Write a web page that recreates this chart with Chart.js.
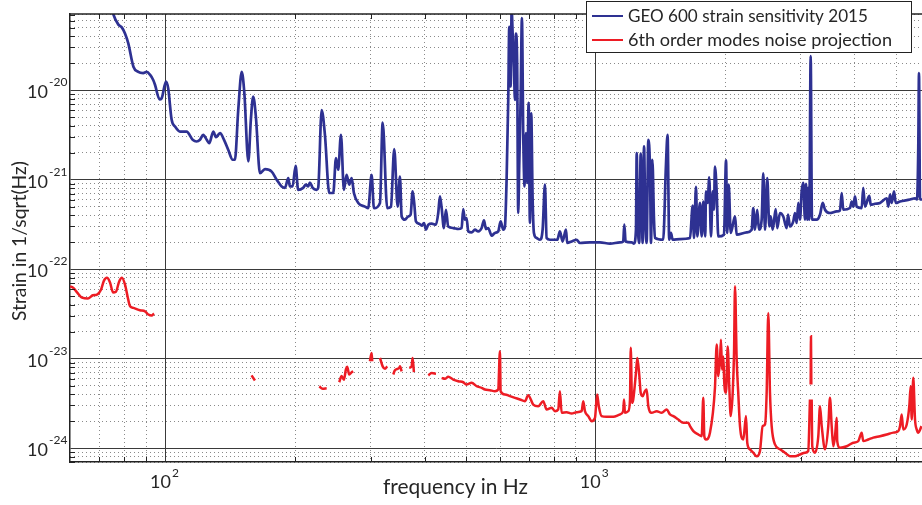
<!DOCTYPE html>
<html><head><meta charset="utf-8">
<script src="https://cdn.jsdelivr.net/npm/chart.js@4.4.0/dist/chart.umd.min.js"></script>
<style>html,body{margin:0;padding:0;background:#fff;overflow:hidden}#wrap{width:922px;height:505px}</style>
</head><body><div id="wrap"><canvas id="c" width="922" height="505"></canvas></div>
<script>
// ---- data (frequency in Hz, strain in 1/sqrt(Hz)) ----
const blueFreq = [
74.6,75.4,77.5,79.0,80.3,81.7,84.0,86.2,88.5,90.2,
91.8,93.4,94.3,96.6,97.7,100,101.2,103.1,105.0,107.8,
111.7,115.4,117.8,120.0,122.1,124.4,126.1,128.9,130.7,133.6,
136.5,139.6,143.0,144.7,147.3,150.1,152.2,155.5,157.6,159.6,
161.9,165.5,170.0,176.2,181.0,185.9,189.2,192.6,194.3,197.1,
200.3,203.1,208.6,211.7,214.3,216.3,219.5,224.2,226.1,230.3,
234.4,239.9,245.1,248.7,251.7,255.4,259.5,263.2,267.0,270.5,
273.8,280.2,290.5,295.6,301.0,304.8,314.8,319.4,327.3,333.9,
339.8,346.1,350.4,353.6,359.9,366.2,371.0,375.0,378.2,381.7,
388.6,393.6,398.5,402.8,407.8,415.3,425.0,430.2,434.1,438.1,
443.5,448.3,453.8,466.2,478.8,487.6,491.8,496.3,500.7,505.2,
514.5,523.7,533.0,542.8,549.6,555.5,562.3,572.7,582.9,593.2,
601.0,609.4,615.0,620.5,626.0,629.4,634.1,637.5,640.9,645.4,
648.9,652.3,656.7,660.3,663.9,668.9,673.6,678.3,683.2,688.2,
692.9,698.2,703.1,708.0,713.4,718.4,728.8,741.8,752.6,762.0,
768.9,782.7,814.2,825.7,837.7,852.7,858.6,879.2,903.1,919.2,
969.9,1023,1080,1139,1159,1166,1174,1213,1228,1241,
1246,1253,1263,1273,1282,1286,1296,1305,1314,1326,
1338,1345,1355,1367,1374,1436,1457,1470,1483,1497,
1511,1571,1658,1682,1694,1712,1724,1749,1765,1780,
1799,1806,1822,1838,1855,1872,1885,1895,1913,1929,
1989,2011,2024,2040,2062,2110,2129,2246,2307,2327,
2348,2377,2399,2434,2455,2478,2508,2536,2555,2582,
2624,2646,2685,2733,2783,2803,2833,2883,2910,2937,
2962,2989,3016,3042,3070,3087,3108,3124,3141,3165,
3187,3268,3327,3376,3418,3510,3639,3703,3737,3769,
3907,3943,3977,4013,4050,4160,4195,4234,4333,4366,
4467,4589,4757,4798,4842,4887,4947,4992,5108,5389,
5536,5595,5634,5655,5686,5747];
const blueStrain = [
8.9e-20,7.1e-20,5.4e-20,5.0e-20,4.3e-20,3.35e-20,1.83e-20,1.6e-20,1.55e-20,1.6e-20,
1.49e-20,1.30e-20,1.15e-20,7.9e-21,8.1e-21,1.25e-20,1.05e-20,4.66e-21,3.92e-21,3.45e-21,
3.45e-21,2.79e-21,2.67e-21,2.79e-21,3.17e-21,2.79e-21,2.56e-21,3.45e-21,2.99e-21,3.31e-21,
2.79e-21,2.16e-21,1.67e-21,1.67e-21,6.0e-21,1.6e-20,9.3e-21,1.60e-21,4.66e-21,8.5e-21,
5.07e-21,1.18e-21,1.31e-21,1.23e-21,1.0e-21,8.4e-22,8.1e-22,1.04e-21,8.4e-22,8.4e-22,
1.43e-21,7.7e-22,8.1e-22,8.8e-22,8.4e-22,9.3e-22,8.1e-22,7.7e-22,8.1e-22,6.0e-21,
3.17e-21,7.1e-22,7.1e-22,1.74e-21,1.29e-21,3.17e-21,7.7e-22,1.13e-21,8.8e-22,1.04e-21,
7.1e-22,5.5e-22,5.0e-22,4.8e-22,1.13e-21,4.8e-22,5.5e-22,4.35e-21,4.8e-22,5.0e-22,
2.19e-21,5.0e-22,1.08e-21,3.88e-22,3.57e-22,3.88e-22,4.06e-22,7.4e-22,5.5e-22,3.42e-22,
3.22e-22,3.06e-22,3.28e-22,2.76e-22,3.14e-22,3.22e-22,3.14e-22,4.24e-22,6.5e-22,4.82e-22,
2.88e-22,4.61e-22,3.0e-22,2.88e-22,2.81e-22,2.88e-22,4.7e-22,3.57e-22,3.73e-22,2.64e-22,
2.58e-22,2.76e-22,2.64e-22,2.88e-22,3.51e-22,2.81e-22,2.88e-22,2.37e-22,2.54e-22,2.64e-22,
3.42e-22,2.76e-22,3.0e-22,1.0e-21,7.8e-21,5.1e-20,1.10e-20,8.0e-20,4.3e-20,1.83e-20,
7.8e-21,4.3e-20,1.83e-20,4.24e-22,1.40e-21,7.8e-21,6.4e-20,3.31e-21,8.4e-22,3.31e-21,
9.2e-22,7.2e-21,3.28e-22,5.5e-21,5.97e-22,2.54e-22,2.23e-22,2.13e-22,2.76e-22,8.8e-22,
2.23e-22,2.13e-22,2.13e-22,2.64e-22,2.04e-22,2.76e-22,1.96e-22,2.04e-22,2.13e-22,1.96e-22,
1.99e-22,1.99e-22,1.93e-22,1.99e-22,2.04e-22,3.14e-22,2.04e-22,1.99e-22,1.93e-22,2.76e-22,
1.98e-21,3.57e-22,1.96e-22,1.95e-21,3.57e-22,1.96e-22,2.35e-21,3.57e-22,1.96e-22,2.79e-21,
1.29e-21,1.96e-22,1.67e-21,3.57e-22,2.23e-22,2.13e-22,1.40e-21,3.17e-21,2.13e-22,2.54e-22,
2.13e-22,2.17e-22,2.23e-22,5.12e-22,2.23e-22,8.3e-22,2.32e-22,5.5e-22,2.32e-22,5.7e-22,
2.32e-22,7.4e-22,5.5e-22,1.06e-21,2.32e-22,7.4e-22,4.61e-22,1.40e-21,7.1e-22,2.32e-22,
2.43e-22,1.64e-21,2.54e-22,8.8e-22,2.54e-22,3.88e-22,2.43e-22,2.58e-22,2.76e-22,4.82e-22,
2.76e-22,4.61e-22,2.76e-22,3.57e-22,1.18e-21,2.76e-22,1.04e-21,3.0e-22,3.88e-22,2.76e-22,
4.7e-22,2.88e-22,4.24e-22,3.88e-22,2.88e-22,4.06e-22,3.0e-22,3.42e-22,4.24e-22,3.28e-22,
5.5e-22,3.57e-22,7.4e-22,9.2e-22,3.57e-22,9.0e-22,3.57e-22,8.1e-22,3.57e-22,2.4e-20,
3.57e-22,3.57e-22,4.06e-22,5.5e-22,4.61e-22,4.24e-22,4.42e-22,4.53e-22,7.1e-22,4.61e-22,
4.82e-22,5.7e-22,5.0e-22,6.5e-22,5.0e-22,4.82e-22,8.1e-22,5.0e-22,6.6e-22,5.25e-22,
5.38e-22,5.5e-22,6.2e-22,5.0e-22,6.8e-22,5.5e-22,7.4e-22,5.5e-22,5.7e-22,6.0e-22,
6.2e-22,6.0e-22,2.35e-21,1.55e-20,6.0e-22,6.0e-22];

const redFreq = [
59.8,60.8,62.1,63.8,65.8,67.6,69.1,70.6,71.7,72.9,
74.1,75.3,76.5,77.8,79.0,80.3,81.7,82.5,84.0,87.0,
89.4,91.0,92.6,93.8,120,158.2,161.1,200,227.4,231.5,
236.6,245,253.1,256.3,259.5,262.3,264.1,267.0,270.5,272.8,
285,298.3,301.0,302.0,310,314.8,319.4,323.4,327.3,332,
338.0,341.1,349.1,350.4,353.6,360,368.2,373.0,375.0,377.6,
395,407.8,415.3,425.0,431,438.1,445.9,453.8,466.2,478.8,
491.8,500.7,514.5,528.5,542.8,552.5,567.5,582.9,593.2,598.7,
601.0,615.0,631.7,648.9,666.4,684.5,696.7,715.6,735.0,755.0,
769.0,789.9,804.0,818.2,825.7,833.3,855.9,879.2,903.1,927.7,
935.6,944.2,961.1,978.8,996.3,1008,1017,1032,1060,1099,
1139,1159,1164,1170,1191,1202,1207,1215,1223,1241,
1250,1263,1273,1286,1302,1314,1326,1350,1387,1424,
1463,1489,1516,1557,1599,1643,1658,1688,1733,1765,
1780,1790,1806,1845,1895,1913,1929,1947,1957,1968,
1982,1992,2011,2029,2046,2062,2084,2099,2110,2129,
2147,2167,2206,2238,2253,2286,2327,2370,2412,2447,
2478,2500,2522,2545,2568,2614,2685,2758,2833,2910,
2989,3070,3124,3153,3160,3165,3170,3176,3179,3182,
3192,3240,3297,3327,3358,3418,3478,3510,3542,3573,
3606,3639,3649,3703,3839,3977,4085,4160,4195,4310,
4426,4589,4757,4928,5062,5108,5155,5196,5295,5369,
5409,5439,5485,5536,5585,5634,5733];
const redStrain = [
6.4e-23,6.2e-23,5.5e-23,4.8e-23,4.7e-23,5.1e-23,5.2e-23,5.9e-23,7.4e-23,8.0e-23,
7.1e-23,5.5e-23,5.6e-23,7.25e-23,8.0e-23,6.7e-23,4.57e-23,3.84e-23,3.69e-23,3.47e-23,
3.38e-23,3.11e-23,3.03e-23,3.19e-23,null,6.5e-24,5.7e-24,null,4.9e-24,4.6e-24,
4.66e-24,null,5.45e-24,6.4e-24,5.8e-24,7.6e-24,8.1e-24,6.65e-24,7.05e-24,7.2e-24,
null,9.35e-24,1.16e-23,9.35e-24,null,1.02e-23,8.2e-24,7.7e-24,8.2e-24,null,
6.65e-24,7.4e-24,7.9e-24,8.2e-24,7.2e-24,null,7.9e-24,8.2e-24,1.02e-23,7.05e-24,
null,6.5e-24,6.9e-24,6.8e-24,null,6.1e-24,5.95e-24,6.26e-24,5.84e-24,5.6e-24,
5.45e-24,5.14e-24,5.37e-24,4.92e-24,4.72e-24,4.52e-24,4.44e-24,4.33e-24,4.52e-24,1.21e-23,
4.33e-24,3.98e-24,3.81e-24,3.65e-24,3.5e-24,3.35e-24,3.9e-24,3.07e-24,2.94e-24,3.35e-24,
2.7e-24,2.83e-24,2.59e-24,2.7e-24,4.33e-24,2.48e-24,2.52e-24,2.44e-24,2.52e-24,2.59e-24,
3.35e-24,2.59e-24,2.28e-24,2.0e-24,2.18e-24,3.98e-24,2.94e-24,2.28e-24,2.24e-24,2.24e-24,
2.38e-24,2.59e-24,3.5e-24,2.48e-24,2.59e-24,3.5e-24,1.32e-23,3.21e-24,3.5e-24,6.94e-24,
1.02e-23,6.65e-24,4.15e-24,3.81e-24,4.33e-24,4.52e-24,2.94e-24,2.48e-24,2.59e-24,2.48e-24,
2.7e-24,2.38e-24,2.28e-24,2.09e-24,1.92e-24,1.92e-24,1.76e-24,1.55e-24,1.42e-24,1.36e-24,
3.65e-24,1.36e-24,1.25e-24,1.49e-24,4.72e-24,1.44e-23,6.36e-24,9.77e-24,1.63e-23,7.56e-24,
1.06e-23,5.37e-24,4.15e-24,1.37e-23,4.92e-24,2.28e-24,4.15e-24,1.16e-23,6.43e-23,9.77e-24,
4.15e-24,1.76e-24,1.25e-24,2.28e-24,1.15e-24,9.7e-25,8.9e-25,8.1e-25,9.3e-25,1.76e-24,
1.84e-24,4.15e-24,3.24e-23,4.15e-24,1.76e-24,1.1e-24,9.7e-25,8.9e-25,8.1e-25,8.1e-25,
8.5e-25,8.9e-25,9.3e-25,3.5e-24,null,5.14e-24,1.78e-23,5.14e-24,null,3.5e-24,
1.05e-24,8.9e-25,1.36e-24,2.94e-24,1.76e-24,9.7e-25,1.76e-24,3.65e-24,1.76e-24,1.05e-24,
1.36e-24,2.18e-24,1.2e-24,1.01e-24,1.05e-24,1.15e-24,1.2e-24,1.49e-24,1.2e-24,1.25e-24,
1.31e-24,1.36e-24,1.42e-24,1.49e-24,1.55e-24,1.76e-24,2.38e-24,1.62e-24,1.84e-24,2.94e-24,
4.92e-24,2.09e-24,6.1e-24,2.09e-24,1.62e-24,1.49e-24,1.76e-24];

const seriesNames = ['GEO 600 strain sensitivity 2015', '6th order modes noise projection'];
const xTickValues = [100, 1000];
const xTickExps = ['2', '3'];
const yTickValues = [1e-20, 1e-21, 1e-22, 1e-23, 1e-24];
const yTickExps = ['-20', '-21', '-22', '-23', '-24'];
const xRange = [59.8, 5747];
const yRange = [7.15e-25, 7.1e-20];
const xTitle = 'frequency in Hz';
const yTitle = 'Strain in 1/sqrt(Hz)';

// ---- styling ----
const FONT = "Lato, 'Open Sans', sans-serif";
const TXT = '#262626';
const BLUE = '#2e3192';
const RED = '#ed1c24';

function mant(v){ const e = Math.floor(Math.log10(v) + 1e-9); return v / Math.pow(10, e); }
function isDecade(v){ const m = mant(v); return Math.abs(m - 1) < 1e-6 || Math.abs(m - 10) < 1e-6; }
function isMinor(v){ const m = mant(v); const r = Math.round(m); return Math.abs(m - r) < 1e-6 && r >= 2 && r <= 9; }

function toPoints(xs, ys){ return xs.map((f, i) => ({x: f, y: ys[i]})); }

function fitSize(ctx, text, target, base){
  ctx.font = base + 'px ' + FONT;
  const w = ctx.measureText(text).width;
  return base * target / w;
}

const decor = {
  id: 'decor',
  afterDatasetsDraw(chart){
    const {ctx, chartArea: a, scales} = chart;
    const xs = scales.x, ys = scales.y;
    ctx.save();
    ctx.strokeStyle = '#222';
    ctx.lineWidth = 1;
    ctx.beginPath();
    xs.ticks.forEach(t => {
      if (!isMinor(t.value)) return;
      const px = Math.round(xs.getPixelForValue(t.value)) + 0.5;
      ctx.moveTo(px, a.bottom); ctx.lineTo(px, a.bottom - 5);
      ctx.moveTo(px, a.top); ctx.lineTo(px, a.top + 5);
    });
    ys.ticks.forEach(t => {
      if (!isMinor(t.value)) return;
      const py = Math.round(ys.getPixelForValue(t.value)) + 0.5;
      ctx.moveTo(a.left, py); ctx.lineTo(a.left + 5, py);
    });
    ctx.stroke();
    ctx.lineWidth = 1.5;
    ctx.beginPath();
    ctx.moveTo(a.left, a.top); ctx.lineTo(a.right, a.top);
    ctx.stroke();
    ctx.restore();
  },
  afterDraw(chart){
    const {ctx, scales} = chart;
    const xs = scales.x, ys = scales.y;
    ctx.save();
    ctx.fillStyle = TXT;
    ctx.textBaseline = 'alphabetic';
    yTickValues.forEach((v, i) => {
      const py = ys.getPixelForValue(v);
      ctx.font = '18px ' + FONT; ctx.textAlign = 'right';
      ctx.fillText('10', 48, py + 8);
      ctx.font = '12px ' + FONT; ctx.textAlign = 'left';
      ctx.fillText(yTickExps[i], 49, py - 4);
    });
    xTickValues.forEach((v, i) => {
      const px = xs.getPixelForValue(v);
      ctx.font = '18px ' + FONT; ctx.textAlign = 'right';
      ctx.fillText('10', px + 5, 488);
      ctx.font = '12px ' + FONT; ctx.textAlign = 'left';
      ctx.fillText(xTickExps[i], px + 6, 477);
    });
    let s = fitSize(ctx, xTitle, 145, 20);
    ctx.font = s.toFixed(2) + 'px ' + FONT; ctx.textAlign = 'center';
    ctx.fillText(xTitle, 455.5, 494);
    s = fitSize(ctx, yTitle, 160, 20);
    ctx.save();
    ctx.translate(26, 241);
    ctx.rotate(-Math.PI / 2);
    ctx.font = s.toFixed(2) + 'px ' + FONT; ctx.textAlign = 'center';
    ctx.fillText(yTitle, 0, 0);
    ctx.restore();
    ctx.fillStyle = '#fff';
    ctx.fillRect(586.5, 1.5, 325, 51);
    ctx.strokeStyle = '#222'; ctx.lineWidth = 1;
    ctx.strokeRect(586.5, 1.5, 325, 51);
    const colors = [BLUE, RED];
    const rows = [16, 40];
    const targets = [240, 264];
    seriesNames.forEach((name, i) => {
      ctx.strokeStyle = colors[i]; ctx.lineWidth = 2;
      ctx.beginPath(); ctx.moveTo(592, rows[i]); ctx.lineTo(623, rows[i]); ctx.stroke();
      const fs = fitSize(ctx, name, targets[i], 17);
      ctx.font = fs.toFixed(2) + 'px ' + FONT;
      ctx.fillStyle = TXT; ctx.textAlign = 'left';
      ctx.fillText(name, 628, rows[i] + 5.5);
    });
    ctx.restore();
  }
};

function logScale(axis, range, position, isMain){
  const cfg = {
    type: 'logarithmic', axis: axis, position: position,
    min: range[0], max: range[1],
    ticks: {display: false},
    grid: {
      drawTicks: false,
      lineWidth: 1,
      color: isMain
        ? (c => (c.tick && isDecade(c.tick.value)) ? '#3a3a3a' : 'rgba(0,0,0,0)')
        : (c => (c.tick && isMinor(c.tick.value)) ? '#8a8a8a' : 'rgba(0,0,0,0)')
    },
    border: isMain ? {display: true, color: '#222', width: 1.5} : {display: false, dash: [1, 3]}
  };
  if (!isMain) {
    cfg.afterFit = s => { if (axis === 'x') s.height = 0; else s.width = 0; };
  }
  return cfg;
}

new Chart(document.getElementById('c'), {
  type: 'line',
  data: {
    datasets: [
      {label: seriesNames[0], data: toPoints(blueFreq, blueStrain), borderColor: BLUE, borderWidth: 2.7,
       pointRadius: 0, cubicInterpolationMode: 'monotone', spanGaps: false, xAxisID: 'x', yAxisID: 'y'},
      {label: seriesNames[1], data: toPoints(redFreq, redStrain), borderColor: RED, borderWidth: 2.5,
       pointRadius: 0, cubicInterpolationMode: 'monotone', spanGaps: false, xAxisID: 'x', yAxisID: 'y'}
    ]
  },
  options: {
    responsive: false,
    animation: false,
    layout: {padding: {left: 70, top: 14, right: 0, bottom: 43}},
    plugins: {legend: {display: false}, tooltip: {enabled: false}},
    scales: {
      xm: logScale('x', xRange, 'bottom', false),
      ym: logScale('y', yRange, 'left', false),
      x: logScale('x', xRange, 'bottom', true),
      y: logScale('y', yRange, 'left', true)
    }
  },
  plugins: [decor]
});
</script>
</body></html>
